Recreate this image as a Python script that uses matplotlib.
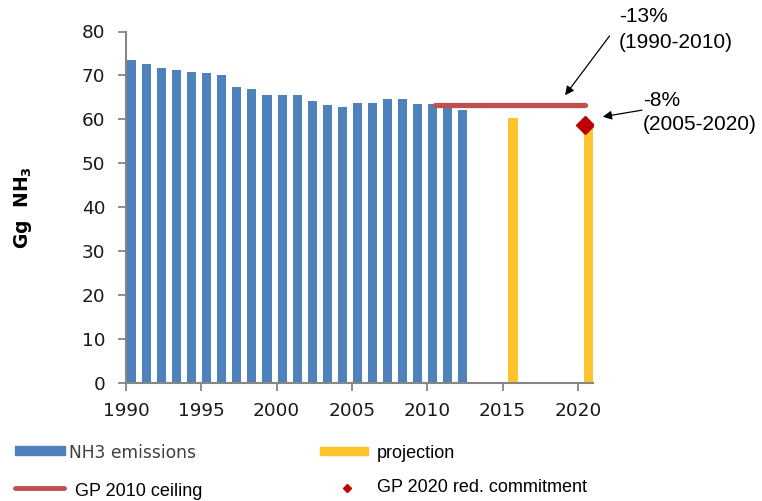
import matplotlib.pyplot as plt
from matplotlib.lines import Line2D
from matplotlib.patches import Rectangle

# NH3 emissions (Gg), inventory years
years = list(range(1990, 2013))
emissions = [73.4, 72.6, 71.7, 71.3, 70.8, 70.5, 70.0, 67.4, 66.9, 65.6,
             65.6, 65.6, 64.2, 63.3, 62.9, 63.8, 63.8, 64.7, 64.7, 63.4,
             63.4, 63.2, 62.1]

# projections
proj_years = [2015, 2020]
projection = [60.3, 58.8]

# Gothenburg Protocol ceiling (2010) and 2020 reduction commitment
ceiling_years = [2010, 2020]
ceiling = [63.2, 63.2]
commit_year = [2020]
commitment = [58.8]

xticks = [1990, 1995, 2000, 2005, 2010, 2015, 2020]
yticks = [0, 10, 20, 30, 40, 50, 60, 70, 80]

BLUE = "#4F81BD"
YELLOW = "#FFC42B"
RED = "#C0504D"
DARKRED = "#C00000"
GREY = "#868686"

W, H = 762, 501
fig = plt.figure(figsize=(W / 100, H / 100), dpi=100)
ax = fig.add_axes([126 / W, 1 - 383 / H, (593 - 126) / W, (383 - 31.5) / H])


def px(x, y):
    """figure pixel (from top-left) -> figure fraction"""
    return x / W, 1 - y / H


ax.bar([y + 0.06 for y in years], emissions, width=0.6, align="edge",
       color=BLUE, zorder=2)
ax.bar([y + 0.37 for y in proj_years], projection, width=0.62, align="edge",
       color=YELLOW, zorder=2)
ax.plot([y + 0.5 for y in ceiling_years], ceiling, color=RED, lw=3.8,
        solid_capstyle="round", zorder=3)
ax.plot([y + 0.5 for y in commit_year], commitment, marker="D", ms=9.5,
        color=DARKRED, ls="none", zorder=4)

ax.set_xlim(1990, 2021)
ax.set_ylim(0, 80)
ax.set_xticks(xticks)
ax.set_yticks(yticks)
ax.tick_params(axis="both", labelsize=13.3, color=GREY, width=1.3, length=6,
               labelcolor="#1a1a1a")
ax.tick_params(axis="y", pad=9)
ax.tick_params(axis="x", pad=8)
for side in ["top", "right"]:
    ax.spines[side].set_visible(False)
for side in ["left", "bottom"]:
    ax.spines[side].set_color(GREY)
    ax.spines[side].set_linewidth(1.5)

ax.set_ylabel("Gg  NH$_\\mathbf{3}$", fontsize=13.5, fontweight="bold",
              labelpad=34)

# reduction annotations
arial = "Liberation Sans"
ax.annotate("", xy=(2019.15, 65.5), xytext=(2022.1, 79.0),
            arrowprops=dict(arrowstyle="-|>", color="black", lw=0.9,
                            mutation_scale=13, shrinkA=0, shrinkB=0),
            annotation_clip=False)
ax.annotate("", xy=(2021.65, 60.6), xytext=(2024.25, 62.1),
            arrowprops=dict(arrowstyle="-|>", color="black", lw=0.9,
                            mutation_scale=13, shrinkA=0, shrinkB=0),
            annotation_clip=False)
fig.text(*px(619, 29.5), "-13%\n(1990-2010)", family=arial, fontsize=15,
         va="center", ha="left", linespacing=1.4)
fig.text(*px(643, 112.5), "-8%\n(2005-2020)", family=arial, fontsize=15,
         va="center", ha="left", linespacing=1.4)

# legend
fig.patches.append(Rectangle(px(15, 455), 50 / W, 9 / H,
                             transform=fig.transFigure, color=BLUE))
fig.text(*px(69, 453), "NH3 emissions", fontsize=12.3, color="#404040",
         va="center", ha="left")
fig.patches.append(Rectangle(px(320, 455), 48 / W, 8 / H,
                             transform=fig.transFigure, color=YELLOW))
fig.text(*px(377, 453), "projection", family=arial, fontsize=13,
         va="center", ha="left")
fig.lines.append(Line2D([15 / W, 64 / W], [1 - 488 / H, 1 - 488 / H],
                        transform=fig.transFigure, color=RED, lw=3.5,
                        solid_capstyle="round"))
fig.text(*px(75, 491), "GP 2010 ceiling", family=arial, fontsize=13,
         va="center", ha="left")
fig.lines.append(Line2D([347 / W], [1 - 488 / H], transform=fig.transFigure,
                        marker="D", ms=4, color=DARKRED, ls="none"))
fig.text(*px(377, 487), "GP 2020 red. commitment", family=arial, fontsize=13,
         va="center", ha="left")

fig.savefig("out.png", dpi=100)
